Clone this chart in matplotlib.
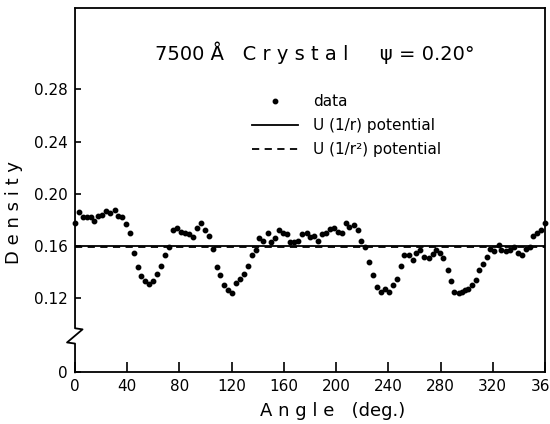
import numpy as np
import matplotlib
matplotlib.use("Agg")
import matplotlib.pyplot as plt
from matplotlib.lines import Line2D

# data (angle in degrees, density)
angle = [0.0, 3.1, 5.9, 9.2, 12.0, 14.8, 17.9, 20.9, 24.0, 27.0, 30.4, 33.2, 36.3, 39.3,
         42.3, 44.9, 48.0, 50.8, 53.9, 56.7, 60.0, 63.0, 66.1, 69.2, 72.3, 75.1, 78.4,
         81.2, 84.5, 87.3, 90.4, 93.4, 96.8, 99.6, 102.7, 105.5, 108.8, 111.3, 114.4,
         117.4, 120.5, 123.3, 126.6, 129.7, 132.5, 135.6, 138.6, 141.2, 144.2, 147.6,
         150.4, 153.5, 156.3, 159.6, 162.7, 164.5, 167.7, 170.6, 173.9, 177.5, 180.3,
         183.1, 186.1, 189.4, 192.5, 195.3, 198.4, 201.2, 204.5, 207.3, 210.1, 213.9,
         216.9, 219.3, 222.4, 225.2, 228.5, 231.1, 234.1, 237.4, 240.5, 243.6, 246.6,
         249.4, 251.7, 255.6, 258.6, 261.4, 264.2, 267.3, 270.9, 274.0, 276.5, 279.3,
         282.1, 285.4, 288.2, 290.3, 293.9, 296.7, 299.0, 301.3, 304.3, 306.9, 309.4,
         312.2, 315.3, 318.1, 321.2, 324.8, 326.3, 330.4, 333.2, 336.3, 339.1, 342.2,
         345.2, 348.8, 351.1, 353.9, 357.0, 360.0]
density = [0.178, 0.186, 0.182, 0.182, 0.182, 0.179, 0.183, 0.184, 0.187, 0.185, 0.188,
           0.183, 0.182, 0.177, 0.170, 0.155, 0.144, 0.137, 0.133, 0.131, 0.133, 0.139,
           0.145, 0.153, 0.159, 0.172, 0.174, 0.171, 0.170, 0.169, 0.167, 0.174, 0.178,
           0.172, 0.168, 0.158, 0.144, 0.138, 0.130, 0.126, 0.124, 0.132, 0.135, 0.139,
           0.145, 0.153, 0.157, 0.166, 0.164, 0.170, 0.163, 0.166, 0.172, 0.170, 0.169,
           0.163, 0.163, 0.164, 0.169, 0.170, 0.167, 0.168, 0.164, 0.169, 0.170, 0.173,
           0.174, 0.171, 0.170, 0.178, 0.175, 0.176, 0.172, 0.164, 0.159, 0.148, 0.138,
           0.129, 0.125, 0.127, 0.125, 0.130, 0.135, 0.145, 0.153, 0.153, 0.149, 0.155,
           0.157, 0.152, 0.151, 0.154, 0.157, 0.155, 0.151, 0.142, 0.133, 0.125, 0.124,
           0.125, 0.126, 0.127, 0.130, 0.134, 0.142, 0.146, 0.152, 0.158, 0.156, 0.161,
           0.157, 0.156, 0.157, 0.159, 0.155, 0.153, 0.158, 0.159, 0.168, 0.170, 0.172,
           0.178]

# theory curves (flat)
theory_x = [0, 360]
u_r = [0.1597, 0.1597]
u_r2 = [0.1590, 0.1590]

xticks = [0, 40, 80, 120, 160, 200, 240, 280, 320, 360]
yticks = [0, 0.12, 0.16, 0.20, 0.24, 0.28]
ylabels = ["0", "0.12", "0.16", "0.20", "0.24", "0.28"]

# broken axis: squeeze 0..0.12 into a short gap
cut = 0.12
low = 0.0633
def fwd(y):
    y = np.asarray(y, dtype=float)
    return np.where(y >= cut, y, low + y * (cut - low) / cut)
def inv(t):
    t = np.asarray(t, dtype=float)
    return np.where(t >= cut, t, (t - low) * cut / (cut - low))

fig = plt.figure(figsize=(5.5, 4.24), dpi=100)
ax = fig.add_axes([0.1364, 0.1219, 0.8545, 0.8585])
ax.set_yscale("function", functions=(fwd, inv))

ax.plot(theory_x, u_r, color="black", lw=1.3, label="U (1/r) potential")
ax.plot(theory_x, u_r2, color="black", lw=1.3, ls=(0, (4, 3)), label="U (1/r²) potential")
ax.plot(angle, density, "o", color="black", ms=3.2, clip_on=False, label="data")

ax.set_xlim(0, 360)
ax.set_ylim(0, 0.3422)
ax.set_xticks(xticks)
ax.set_yticks(yticks, ylabels)
ax.tick_params(axis="both", direction="in", labelsize=11, width=1.2)
ax.tick_params(axis="x", length=7, pad=5)
ax.tick_params(axis="y", length=4, pad=5)

for s in ["top", "right", "bottom"]:
    ax.spines[s].set_linewidth(1.3)
ax.spines["left"].set_visible(False)

# left axis with the zigzag break
bx = [0, 0, 0.016, -0.017, 0, 0]
by = [1, 0.121, 0.118, 0.082, 0.079, 0]
ax.plot(bx, by, color="black", lw=1.3, transform=ax.transAxes, clip_on=False)

ax.set_ylabel("D e n s i t y", fontsize=13)
ax.yaxis.set_label_coords(-0.11, 0.44)
ax.set_xlabel("A n g l e   (deg.)", fontsize=13)
ax.xaxis.set_label_coords(0.548, -0.082)

ax.text(0.51, 0.877, "7500 Å   C r y s t a l     ψ = 0.20°", transform=ax.transAxes,
        ha="center", va="center", fontsize=14)

handles = [Line2D([], [], ls="none", marker="o", color="black", ms=3.2),
           Line2D([], [], color="black", lw=1.3),
           Line2D([], [], color="black", lw=1.3, ls=(0, (4, 3)))]
labels = ["data", "U (1/r) potential", "U (1/r²) potential"]
ax.legend(handles, labels, loc="upper left", bbox_to_anchor=(0.377, 0.765),
          frameon=False, fontsize=11, handlelength=3.0, handletextpad=1.0,
          labelspacing=0.6, borderpad=0, borderaxespad=0)

fig.savefig("out.png", dpi=100)
